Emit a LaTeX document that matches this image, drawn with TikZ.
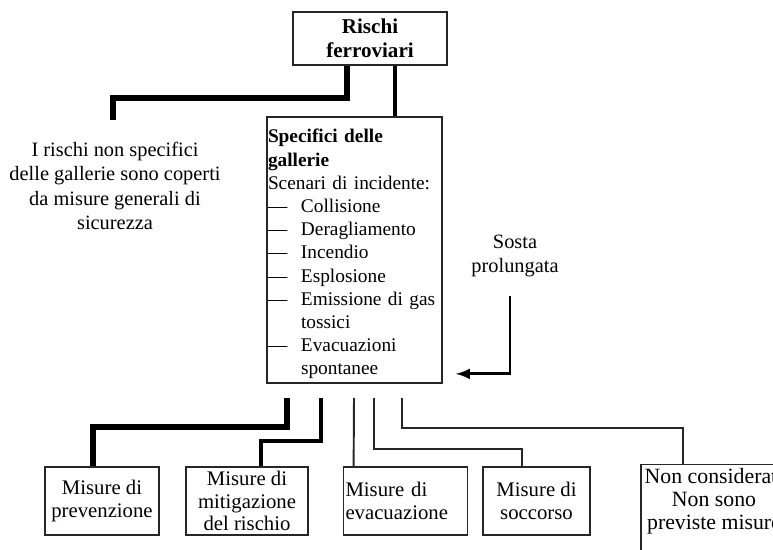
\documentclass[tikz,border=0pt]{standalone}
\usepackage{fontspec}
\setmainfont{Liberation Serif}

\newcommand{\trattino}{\makebox[0.66cm][l]{---}}
\newcommand{\rientro}{\hspace*{0.66cm}}

\tikzset{
	casella/.style={draw=black!85, line width=1pt, rectangle, inner sep=0.06cm, align=center, font=\fontsize{11.8}{13}\selectfont},
	testo/.style={align=center, inner sep=0.05cm, font=\fontsize{11.6}{14}\selectfont},
	lineaxxl/.style={black, line width=3.4pt, line join=miter},
	lineaxl/.style={black, line width=3.1pt, line join=miter},
	lineal/.style={black, line width=2.5pt, line join=miter},
	lineam/.style={black, line width=2pt, line join=miter},
	lineas/.style={black!85, line width=1.1pt, line join=miter}
}

\begin{document}
\begin{tikzpicture}[font=\fontsize{11}{13.4}\selectfont]
	\useasboundingbox (0, 0) rectangle (15.46, 11);
	\clip (0, 0) rectangle (15.46, 11);

	% caselle in alto
	\node[casella, minimum width=3.08cm, minimum height=1.06cm, font=\fontsize{12}{13.6}\selectfont]	(rischi) at (7.40, 10.23) {\textbf{Rischi}\\ \textbf{ferroviari}};
	\node[casella, align=left, text width=3.46cm, inner xsep=0.02cm, minimum height=5.32cm, font=\fontsize{11}{13.2}\selectfont]	(specifici) at (7.09, 6.00)
		{\rule{0pt}{0.44cm}\textbf{Specifici delle}\\ \textbf{gallerie}\\ Scenari di incidente:\\
		 \trattino Collisione\\ \trattino Deragliamento\\ \trattino Incendio\\ \trattino Esplosione\\
		 \trattino\mbox{Emissione di gas}\\ \rientro tossici\\ \trattino Evacuazioni\\ \rientro spontanee};

	\node[testo]	(nongall) at (2.30, 7.28) {I rischi non specifici\\ delle gallerie sono coperti\\ da misure generali di\\ sicurezza};
	\node[testo]	(sosta) at (10.30, 5.88) {Sosta\\ prolungata};

	% caselle in basso
	\node[casella, minimum width=2.28cm, minimum height=1.36cm]	(prev) at (2.04, 0.98) {Misure di\\ prevenzione};
	\node[casella, minimum width=2.44cm, minimum height=1.36cm]	(mitig) at (4.94, 0.98) {Misure di\\ mitigazione\\ del rischio};
	\node[casella, align=left, text width=2.4cm, inner xsep=0.04cm, minimum height=1.36cm]	(evac) at (8.11, 0.98) {Misure di\\ evacuazione};
	\node[casella, minimum width=2.14cm, minimum height=1.36cm]	(socc) at (10.73, 0.98) {Misure di\\ soccorso};
	\node[casella, draw=none, minimum width=2.64cm, minimum height=1.36cm, font=\fontsize{12.4}{13}\selectfont]	(noncons) at (14.28, 0.98) {Non considerati\\ Non sono\\ previste misure};
	\draw[black!85, line width=1pt]	([yshift=-0.5cm]noncons.south west) -- (noncons.north west) -- (noncons.north east) -- ([yshift=-0.5cm]noncons.south east);

	% collegamenti in alto
	\draw[lineaxxl]	([xshift=-0.46cm]rischi.south) -- ++(0, -0.64) -| ([xshift=-0.04cm, yshift=0.38cm]nongall.north);
	\draw[lineam]	([xshift=0.5cm]rischi.south) -- ([xshift=0.5cm]rischi.south |- specifici.north);

	\draw[-latex, black, line width=1.7pt]	([xshift=-0.1cm, yshift=-0.32cm]sosta.south) |- ([xshift=0.26cm, yshift=0.2cm]specifici.south east);

	% collegamenti in basso
	\draw[lineaxl]	([xshift=-1.35cm, yshift=-0.28cm]specifici.south) -- ++(0, -0.58) -| ([xshift=-0.18cm]prev.north);
	\draw[lineal]	([xshift=-0.67cm, yshift=-0.28cm]specifici.south) -- ++(0, -0.86) -| ([xshift=0.28cm]mitig.north);
	\draw[lineas]	([xshift=-0.01cm, yshift=-0.28cm]specifici.south) -- ([xshift=0.22cm]evac.north west);
	\draw[lineas]	([xshift=0.39cm, yshift=-0.28cm]specifici.south) -- ++(0, -1.02) -| ([xshift=-0.29cm]socc.north);
	\draw[lineas]	([xshift=0.95cm, yshift=-0.28cm]specifici.south) -- ++(0, -0.60) -| ([xshift=-0.62cm]noncons.north);
\end{tikzpicture}
\end{document}
